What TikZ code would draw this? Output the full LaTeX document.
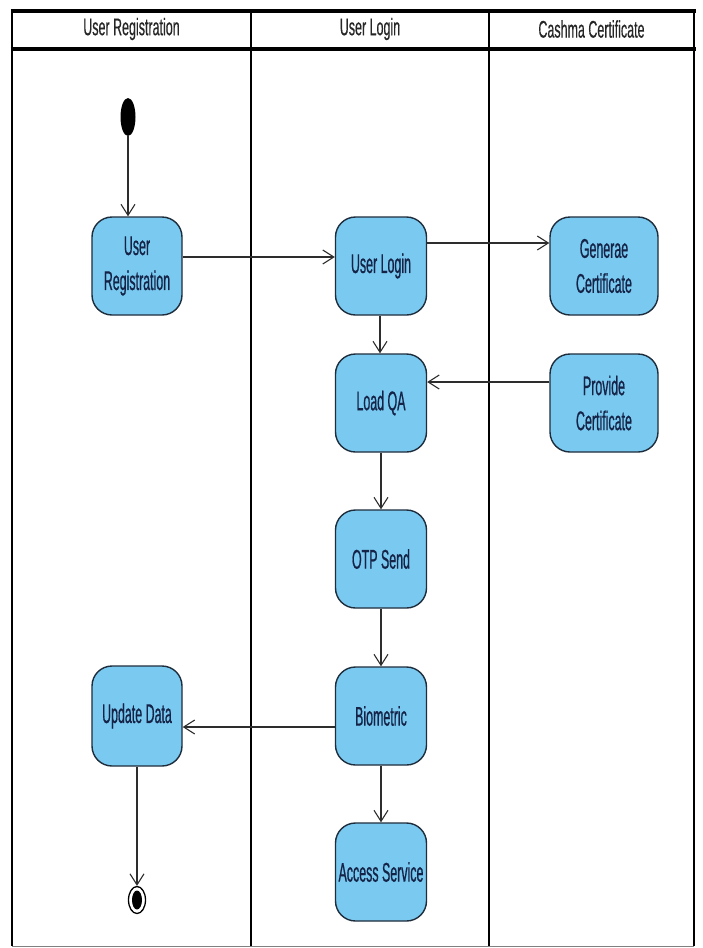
\documentclass[tikz,border=0pt]{standalone}
\usepackage{fontspec}
\usetikzlibrary{arrows.meta,shapes.geometric}
\newfontfamily\nodefont[FakeStretch=0.46,FakeBold=0.6]{Liberation Sans}
\newfontfamily\headfont[FakeStretch=0.52,FakeBold=0.4]{Liberation Sans}
\definecolor{actfill}{RGB}{122,201,240}
\definecolor{actdraw}{RGB}{30,45,60}
\definecolor{acttext}{RGB}{20,35,70}
\definecolor{edgecol}{RGB}{45,45,45}
\begin{document}
\begin{tikzpicture}[x=1pt,y=-1pt,
  act/.style={draw=actdraw,line width=1.4pt,fill=actfill,rounded corners=20pt,
    minimum width=91pt,minimum height=98pt,align=center,inner sep=2pt,
    text=acttext,font=\nodefont\fontsize{27}{35}\selectfont},
  wide/.style={minimum width=108pt},
  head/.style={font=\headfont\fontsize{24}{26}\selectfont,text=black!85},
  arr/.style={draw=edgecol,line width=1.1pt,-{Straight Barb[length=11pt,width=14pt,line width=1.1pt]}},
  lane/.style={draw=black,line width=2pt},
  thick lane/.style={draw=black,line width=3.2pt}]
\path[use as bounding box] (0,0) rectangle (702,948);
\fill[white] (0,0) rectangle (702,948);
% swimlane frame
\draw[lane] (12,11) -- (12,946);
\draw[lane] (251,11) -- (251,946);
\draw[lane] (489,11) -- (489,946);
\draw[lane] (694,11) -- (694,946);
\draw[thick lane] (10.5,11) -- (695.5,11);
\draw[thick lane] (10.5,49) -- (695.5,49);
\draw[draw=black!50,line width=1pt] (12,946) -- (694,946);
\node[head] (h1) at (131.5,29) {User Registration};
\node[head] (h2) at (370,29) {User Login};
\node[head] (h3) at (591.5,29) {Cashma Certificate};
% nodes
\node[draw=none,fill=black,ellipse,minimum width=15pt,minimum height=38pt,inner sep=0pt] (init) at (128,117) {};
\node[act,minimum width=90pt] (ur) at (137,266) {User\\Registration};
\node[act] (ul) at (381,266) {User Login};
\node[act,wide] (gc) at (604,266) {Generae\\Certificate};
\node[act,wide] (pc) at (604,403) {Provide\\Certificate};
\node[act] (lqa) at (381,403) {Load QA};
\node[act] (otp) at (381,559) {OTP Send};
\node[act] (bio) at (381,716) {Biometric};
\node[act] (as) at (381,872) {Access Service};
\node[act,minimum width=90pt,minimum height=100pt] (ud) at (137,716) {Update Data};
\node[ellipse,draw=black,line width=1.3pt,fill=white,minimum width=17pt,minimum height=27pt,inner sep=0pt] (fin) at (137,900) {};
\node[ellipse,fill=black,minimum width=10pt,minimum height=19pt,inner sep=0pt] (finin) at (fin.center) {};
% edges
\draw[arr] (init.south) -- (init.south |- ur.north);
\draw[arr] ([yshift=9pt]ur.east) -- ([yshift=9pt]ul.west);
\draw[arr] ([yshift=23pt]ul.east) -- ([yshift=23pt]gc.west);
\draw[arr] ([xshift=-1pt]ul.south) -- ([xshift=-1pt]lqa.north);
\draw[arr] ([yshift=21pt]pc.west) -- ([yshift=21pt]lqa.east);
\draw[arr] (lqa.south) -- (otp.north);
\draw[arr] (otp.south) -- (bio.north);
\draw[arr] (bio.south) -- (as.north);
\draw[arr] ([yshift=-11pt]bio.west) -- ([yshift=-11pt]ud.east);
\draw[arr] (ud.south) -- (fin.north);
\end{tikzpicture}
\end{document}
